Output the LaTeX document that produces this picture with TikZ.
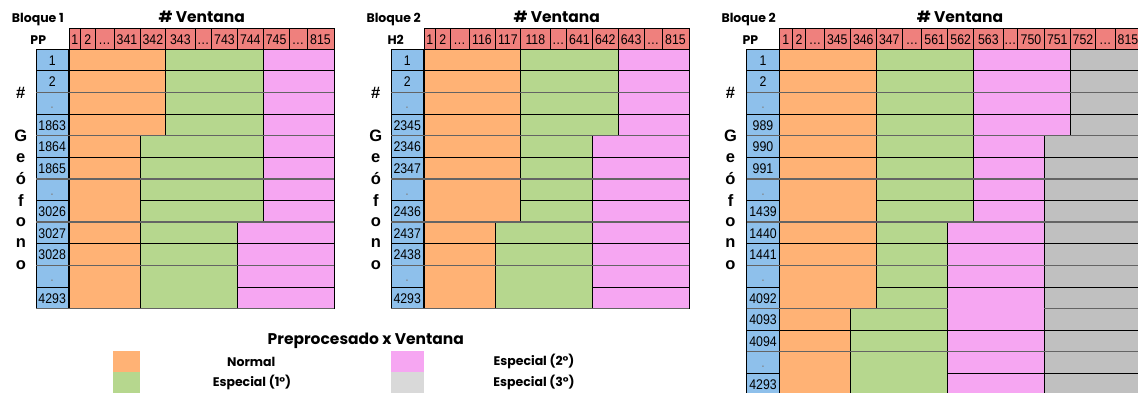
\documentclass[tikz,border=0pt]{standalone}
\usepackage{fontspec}
\setmainfont{Liberation Sans}
\newfontfamily\hdfont{Poppins}
\newfontfamily\numfont{Liberation Sans}[FakeStretch=0.88]
\definecolor{orC}{RGB}{255,178,117}
\definecolor{grC}{RGB}{182,215,142}
\definecolor{piC}{RGB}{246,166,242}
\definecolor{gyC}{RGB}{192,192,192}
\definecolor{lgC}{RGB}{217,217,217}
\definecolor{blC}{RGB}{142,192,235}
\definecolor{rdC}{RGB}{239,128,125}
\definecolor{grpC}{RGB}{100,100,100}
\tikzset{
  cellline/.style={draw=black, line width=0.8pt},
  grpline/.style={draw=grpC, line width=1.4pt},
  numlbl/.style={font=\numfont\fontsize{14}{14}\selectfont, inner sep=0pt, anchor=base},
  blocklbl/.style={font=\hdfont\bfseries\fontsize{12.5}{12.5}\selectfont, inner sep=0pt},
  venlbl/.style={font=\hdfont\bfseries\fontsize{15.5}{15.5}\selectfont, inner sep=0pt},
  pplbl/.style={font=\hdfont\bfseries\fontsize{12.5}{12.5}\selectfont, inner sep=0pt},
  vertlbl/.style={font=\bfseries\fontsize{16.5}{16.5}\selectfont, inner sep=0pt},
  legtitle/.style={font=\hdfont\bfseries\fontsize{15.5}{15.5}\selectfont, inner sep=0pt},
  leglbl/.style={font=\hdfont\bfseries\fontsize{12.5}{12.5}\selectfont, inner sep=0pt},
}
\newcommand\cellrect[5]{\filldraw[fill=#5, cellline] (#1,{49.3+21.6*(#3-1)}) rectangle (#2,{49.3+21.6*#4});}
\newcommand\dotlbl{\textcolor{gray}{.}}
\begin{document}
\begin{tikzpicture}[x=1pt,y=-1pt]
\useasboundingbox (0,0) rectangle (1138,393);
\clip (0,0) rectangle (1138,393);
\fill[white] (0,0) rectangle (1138,393);

% ================= Table 1 =================
\node[blocklbl] (b1) at (37.8,19.3) {Bloque 1};
\node[venlbl] (v1) at (201.7,17.3) {\# Ventana};
\node[pplbl] (p1) at (38.3,40) {PP};
\node[vertlbl] (h1) at (20.8,92.7) {\#};
\foreach \ch/\yy [count=\i] in {G/136,e/158,ó/179,f/200.7,o/221.7,n/243,o/265}
  \node[vertlbl] (g1\i) at (20.8,\yy) {\ch};
\foreach \a/\b/\lab [count=\i] in {69/80.7/1,80.7/95/2,95/114/…,114/140/341,140/165.7/342,165.7/195/343,195/211.7/…,211.7/237.3/743,237.3/263.3/744,263.3/289/745,289/307/…,307/334/815}{
  \filldraw[fill=rdC, cellline] (\a,28.3) rectangle (\b,49.3);
  \node[numlbl] (t1h\i) at ({(\a+\b)/2},44.6) {\lab};
}
\foreach \lab [count=\i] in {1,2,\dotlbl,1863,1864,1865,\dotlbl,3026,3027,3028,\dotlbl,4293}{
  \cellrect{36}{68.5}{\i}{\i}{blC}
  \node[numlbl] (t1r\i) at (52.2,{49.3+21.6*\i-5.5}) {\lab};
}
\foreach \r in {1,...,4} {\cellrect{69}{165.7}{\r}{\r}{orC}\cellrect{165.7}{263.3}{\r}{\r}{grC}\cellrect{263.3}{334}{\r}{\r}{piC}}
\foreach \r in {5,6} {\cellrect{69}{140}{\r}{\r}{orC}}
\cellrect{69}{140}{7}{8}{orC}
\foreach \r in {5,...,8} {\cellrect{140}{263.3}{\r}{\r}{grC}\cellrect{263.3}{334}{\r}{\r}{piC}}
\foreach \r in {9,10} {\cellrect{69}{140}{\r}{\r}{orC}\cellrect{140}{237.3}{\r}{\r}{grC}}
\cellrect{69}{140}{11}{12}{orC}
\cellrect{140}{237.3}{11}{12}{grC}
\foreach \r in {9,...,12} {\cellrect{237.3}{334}{\r}{\r}{piC}}
\foreach \k in {2,4,...,12} {\draw[grpline] (36,{49.3+21.6*\k}) -- (334,{49.3+21.6*\k});}

% ================= Table 2 =================
\node[blocklbl] (b2) at (393.7,19.3) {Bloque 2};
\node[venlbl] (v2) at (556.7,17.3) {\# Ventana};
\node[pplbl] (p2) at (395.7,40) {H2};
\node[vertlbl] (h2) at (375.8,92.7) {\#};
\foreach \ch/\yy [count=\i] in {G/136,e/158,ó/179,f/200.7,o/221.7,n/243,o/265}
  \node[vertlbl] (g2\i) at (375.8,\yy) {\ch};
\foreach \a/\b/\lab [count=\i] in {424/435.7/1,435.7/450/2,450/469/…,469/495/116,495/520.7/117,520.7/550/118,550/566.7/…,566.7/592.3/641,592.3/618.3/642,618.3/644/643,644/662/…,662/689/815}{
  \filldraw[fill=rdC, cellline] (\a,28.3) rectangle (\b,49.3);
  \node[numlbl] (t2h\i) at ({(\a+\b)/2},44.6) {\lab};
}
\foreach \lab [count=\i] in {1,2,\dotlbl,2345,2346,2347,\dotlbl,2436,2437,2438,\dotlbl,4293}{
  \cellrect{391}{423.5}{\i}{\i}{blC}
  \node[numlbl] (t2r\i) at (407.2,{49.3+21.6*\i-5.5}) {\lab};
}
\foreach \r in {1,...,4} {\cellrect{424}{520.7}{\r}{\r}{orC}\cellrect{520.7}{618.3}{\r}{\r}{grC}\cellrect{618.3}{689}{\r}{\r}{piC}}
\foreach \r in {5,6} {\cellrect{424}{520.7}{\r}{\r}{orC}}
\cellrect{424}{520.7}{7}{8}{orC}
\foreach \r in {5,...,8} {\cellrect{520.7}{592.3}{\r}{\r}{grC}\cellrect{592.3}{689}{\r}{\r}{piC}}
\foreach \r in {9,10} {\cellrect{424}{495}{\r}{\r}{orC}\cellrect{495}{592.3}{\r}{\r}{grC}}
\cellrect{424}{495}{11}{12}{orC}
\cellrect{495}{592.3}{11}{12}{grC}
\foreach \r in {9,...,12} {\cellrect{592.3}{689}{\r}{\r}{piC}}
\foreach \k in {2,4,...,12} {\draw[grpline] (391,{49.3+21.6*\k}) -- (689,{49.3+21.6*\k});}

% ================= Table 3 =================
\node[blocklbl] (b3) at (748.7,19.3) {Bloque 2};
\node[venlbl] (v3) at (960,17.3) {\# Ventana};
\node[pplbl] (p3) at (750.3,40) {PP};
\node[vertlbl] (h3) at (730.5,92.7) {\#};
\foreach \ch/\yy [count=\i] in {G/136,e/158,ó/179,f/200.7,o/221.7,n/243,o/265}
  \node[vertlbl] (g3\i) at (730.5,\yy) {\ch};
\foreach \a/\b/\lab [count=\i] in {779.3/792.3/1,792.3/805.7/2,805.7/824.3/…,824.3/850.3/345,850.3/876.3/346,876.3/902.3/347,902.3/921.7/…,921.7/947.7/561,947.7/973.7/562,973.7/1003/563,1003/1017.7/…,1017.7/1044.3/750,1044.3/1070.3/751,1070.3/1095.7/752,1095.7/1115/…,1115/1141/815}{
  \filldraw[fill=rdC, cellline] (\a,28.3) rectangle (\b,49.3);
  \node[numlbl] (t3h\i) at ({(\a+\b)/2},44.6) {\lab};
}
\foreach \lab [count=\i] in {1,2,\dotlbl,989,990,991,\dotlbl,1439,1440,1441,\dotlbl,4092,4093,4094,\dotlbl,4293}{
  \cellrect{746.7}{779.3}{\i}{\i}{blC}
  \node[numlbl] (t3r\i) at (763,{49.3+21.6*\i-5.5}) {\lab};
}
\foreach \r in {1,...,4} {\cellrect{779.3}{876.3}{\r}{\r}{orC}\cellrect{876.3}{973.7}{\r}{\r}{grC}\cellrect{973.7}{1070.3}{\r}{\r}{piC}\cellrect{1070.3}{1141}{\r}{\r}{gyC}}
\foreach \r in {5,6} {\cellrect{779.3}{876.3}{\r}{\r}{orC}}
\cellrect{779.3}{876.3}{7}{8}{orC}
\foreach \r in {5,...,8} {\cellrect{876.3}{973.7}{\r}{\r}{grC}\cellrect{973.7}{1044.3}{\r}{\r}{piC}}
\foreach \r in {9,10} {\cellrect{779.3}{876.3}{\r}{\r}{orC}}
\cellrect{779.3}{876.3}{11}{12}{orC}
\foreach \r in {9,...,12} {\cellrect{876.3}{947.7}{\r}{\r}{grC}}
\foreach \r in {9,10,11} {\cellrect{947.7}{1044.3}{\r}{\r}{piC}}
\cellrect{947.7}{1044.3}{12}{13}{piC}
\foreach \r in {13,14} {\cellrect{779.3}{850.3}{\r}{\r}{orC}\cellrect{850.3}{947.7}{\r}{\r}{grC}}
\cellrect{779.3}{850.3}{15}{16}{orC}
\cellrect{850.3}{947.7}{15}{16}{grC}
\foreach \r in {14,15,16} {\cellrect{947.7}{1044.3}{\r}{\r}{piC}}
\foreach \r in {5,...,16} {\cellrect{1044.3}{1141}{\r}{\r}{gyC}}
\foreach \k in {2,4,...,10,14,16} {\draw[grpline] (746.7,{49.3+21.6*\k}) -- (1141,{49.3+21.6*\k});}
\draw[grpline] (746.7,{49.3+21.6*12}) -- (947.7,{49.3+21.6*12});
\draw[grpline] (1044.3,{49.3+21.6*12}) -- (1141,{49.3+21.6*12});

% ================= Legend =================
\node[legtitle] (lt) at (365.8,340.7) {Preprocesado x Ventana};
\fill[orC] (113.3,350.7) rectangle (140,371.7);
\fill[grC] (113.3,371.7) rectangle (140,393);
\fill[piC] (391,350.7) rectangle (424.3,371.7);
\fill[lgC] (391,371.7) rectangle (424.3,393);
\node[leglbl] (l1) at (251.3,361.7) {Normal};
\node[leglbl] (l2) at (252,382.7) {Especial (1°)};
\node[leglbl] (l3) at (534,361.7) {Especial (2°)};
\node[leglbl] (l4) at (534,382.7) {Especial (3°)};
\end{tikzpicture}
\end{document}
